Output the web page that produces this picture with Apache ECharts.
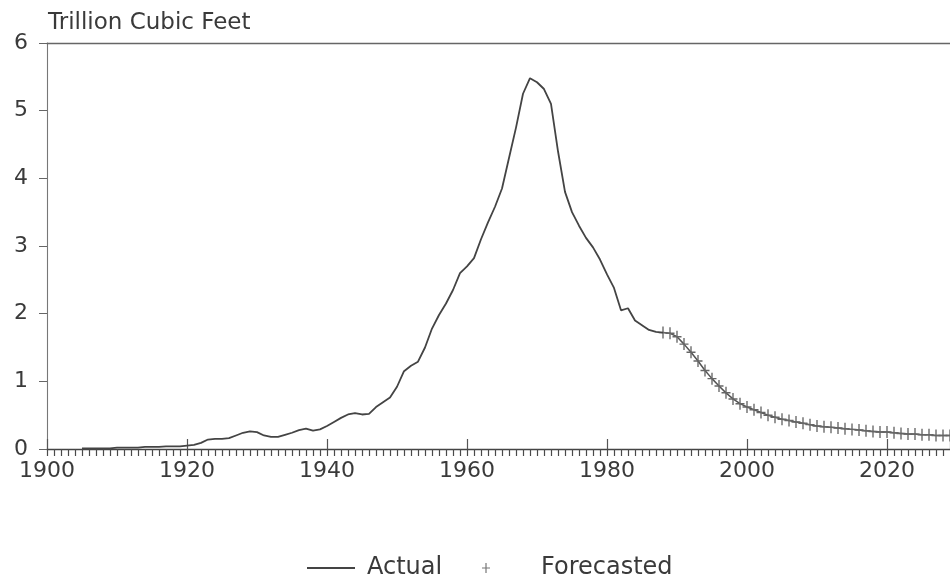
<!DOCTYPE html>
<html>
<head>
<meta charset="utf-8">
<script src="https://cdn.jsdelivr.net/npm/echarts@6/dist/echarts.min.js"></script>
<style>html,body{margin:0;padding:0;background:#fff}#c{width:950px;height:578px}</style>
</head>
<body>
<div id="c"></div>
<script>
var actualYears = [1905,1906,1907,1908,1909,1910,1911,1912,1913,1914,1915,1916,1917,1918,1919,1920,1921,1922,1923,1924,1925,1926,1927,1928,1929,1930,1931,1932,1933,1934,1935,1936,1937,1938,1939,1940,1941,1942,1943,1944,1945,1946,1947,1948,1949,1950,1951,1952,1953,1954,1955,1956,1957,1958,1959,1960,1961,1962,1963,1964,1965,1966,1967,1968,1969,1970,1971,1972,1973,1974,1975,1976,1977,1978,1979,1980,1981,1982,1983,1984,1985,1986,1987,1988];
var actualValues = [0.01,0.01,0.01,0.01,0.01,0.02,0.02,0.02,0.02,0.03,0.03,0.03,0.04,0.04,0.04,0.05,0.06,0.09,0.14,0.15,0.15,0.16,0.20,0.24,0.26,0.25,0.20,0.18,0.18,0.21,0.24,0.28,0.30,0.27,0.29,0.34,0.40,0.46,0.51,0.53,0.51,0.52,0.62,0.69,0.76,0.92,1.15,1.23,1.29,1.50,1.78,1.98,2.15,2.35,2.60,2.70,2.82,3.10,3.35,3.58,3.85,4.30,4.75,5.25,5.48,5.42,5.32,5.10,4.40,3.80,3.50,3.30,3.12,2.98,2.80,2.58,2.38,2.05,2.08,1.90,1.83,1.76,1.73,1.72];
var forecastYears = [1988,1989,1990,1991,1992,1993,1994,1995,1996,1997,1998,1999,2000,2001,2002,2003,2004,2005,2006,2007,2008,2009,2010,2011,2012,2013,2014,2015,2016,2017,2018,2019,2020,2021,2022,2023,2024,2025,2026,2027,2028,2029];
var forecastValues = [1.72,1.71,1.66,1.55,1.43,1.30,1.16,1.04,0.93,0.83,0.74,0.67,0.62,0.58,0.54,0.50,0.47,0.44,0.42,0.40,0.38,0.36,0.34,0.33,0.32,0.31,0.30,0.29,0.28,0.27,0.26,0.25,0.25,0.24,0.23,0.22,0.22,0.21,0.21,0.20,0.20,0.20];
var yTicks = [0,1,2,3,4,5,6];
var xTickLabels = [1900,1920,1940,1960,1980,2000,2020];

var FONT = 'DejaVu Sans';
var TXT = '#3a3a3a';
var PLUS = 'path://M-0.6,-5h1.2v10h-1.2z M-4,-0.6h8v1.2h-8z';

function pairs(xs, ys){ return xs.map(function(x,i){ return [x, ys[i]]; }); }

var chart = echarts.init(document.getElementById('c'));
chart.setOption({
  animation: false,
  backgroundColor: '#fff',
  title: {
    text: 'Trillion Cubic Feet',
    left: 43, top: 7,
    textStyle: { fontFamily: FONT, fontSize: 23, fontWeight: 'normal', color: TXT }
  },
  legend: [
    {
      left: 302, top: 551, orient: 'horizontal',
      itemWidth: 48, itemHeight: 2,
      textStyle: { fontFamily: FONT, fontSize: 24, color: TXT, padding: [0,0,0,7] },
      data: [{ name: 'Actual', icon: 'rect', itemStyle: { color: '#444' } }]
    },
    {
      left: 477, top: 551, orient: 'horizontal',
      itemWidth: 8, itemHeight: 10,
      textStyle: { fontFamily: FONT, fontSize: 24, color: TXT, padding: [0,0,0,46] },
      data: [{ name: 'Forecasted', icon: PLUS, itemStyle: { color: '#777' } }]
    }
  ],
  grid: { left: 47, right: 0, top: 43, bottom: 129, containLabel: false },
  xAxis: [
    {
      type: 'value', min: 1900, max: 2029, interval: 1,
      axisLine: { show: true, lineStyle: { color: '#444', width: 1.4 } },
      axisTick: { show: true, inside: false, length: 7, lineStyle: { color: '#4a4a4a', width: 1.2 } },
      axisLabel: { show: true, margin: 11, interval: 0, showMaxLabel: false, showMinLabel: true, fontFamily: FONT, fontSize: 22, color: TXT,
        formatter: function(v){ return xTickLabels.indexOf(v) >= 0 ? String(v) : ''; } },
      splitLine: { show: false }
    },
    {
      type: 'value', min: 1900, max: 2029, interval: 20, position: 'bottom',
      axisLine: { show: false },
      axisTick: { show: true, inside: true, length: 10, lineStyle: { color: '#555', width: 1.2 } },
      axisLabel: { show: false },
      splitLine: { show: false }
    },
    {
      type: 'value', min: 1900, max: 2029, interval: 20, position: 'top',
      axisLine: { show: true, lineStyle: { color: '#666', width: 1.4 } },
      axisTick: { show: false }, axisLabel: { show: false }, splitLine: { show: false }
    }
  ],
  yAxis: {
    type: 'value', min: 0, max: 6, interval: 1,
    axisLine: { show: true, lineStyle: { color: '#777', width: 1.1 } },
    axisTick: { show: true, inside: false, length: 8, lineStyle: { color: '#666' } },
    axisLabel: { margin: 19, fontFamily: FONT, fontSize: 22, color: TXT,
      formatter: function(v){ return yTicks.indexOf(v) >= 0 ? String(v) : ''; } },
    splitLine: { show: false }
  },
  series: [
    {
      name: 'Actual', type: 'line', xAxisIndex: 0,
      data: pairs(actualYears, actualValues),
      symbol: 'none', smooth: false,
      lineStyle: { color: '#444', width: 1.8 },
      itemStyle: { color: '#444' },
      z: 3
    },
    {
      name: 'Forecasted', type: 'line', xAxisIndex: 0,
      data: pairs(forecastYears, forecastValues),
      symbol: PLUS, symbolSize: [9, 12], showSymbol: true, showAllSymbol: true,
      lineStyle: { color: '#555', width: 1.5 },
      itemStyle: { color: '#666' },
      z: 2
    }
  ]
});
</script>
</body>
</html>
